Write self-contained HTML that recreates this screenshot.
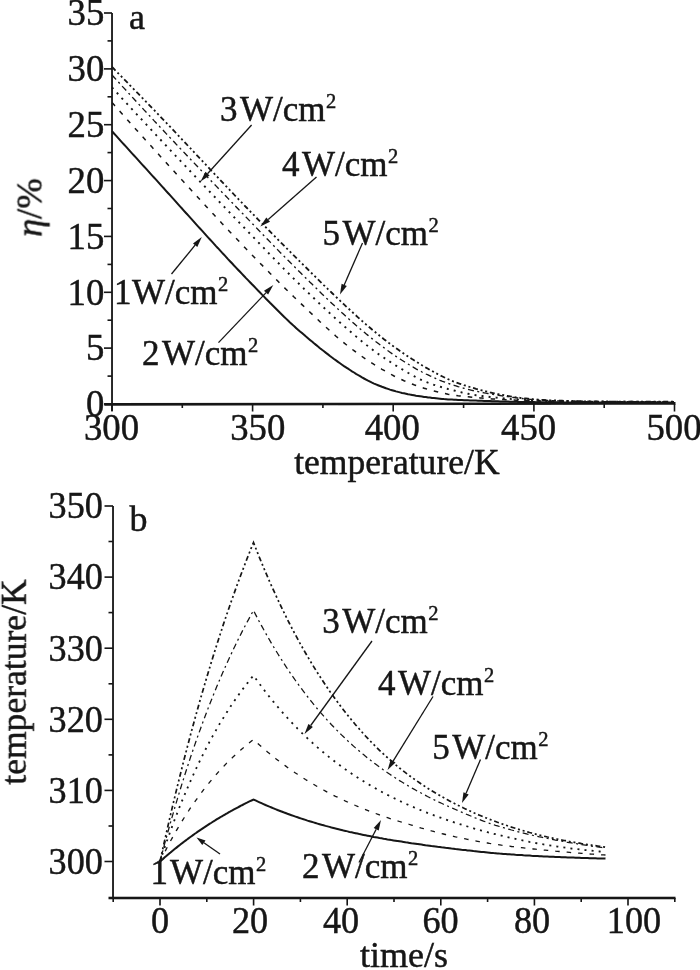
<!DOCTYPE html>
<html lang="en">
<head>
<meta charset="utf-8">
<title>Efficiency and temperature curves</title>
<style>
html,body{margin:0;padding:0;background:#fff;}
body{width:700px;height:970px;overflow:hidden;}
svg{display:block;}
svg text{font-family:'Liberation Serif', 'DejaVu Serif', serif;fill:#141414;stroke:#141414;stroke-width:0.45px;}
</style>
</head>
<body>
<svg width="700" height="970" viewBox="0 0 700 970">
<defs><filter id="soft" x="0" y="0" width="700" height="970" filterUnits="userSpaceOnUse"><feGaussianBlur stdDeviation="0.45"/></filter></defs>
<rect x="0" y="0" width="700" height="970" fill="#ffffff"/>
<g filter="url(#soft)">
<g id="chart-a">
<path d="M112.0,131.2 L114.0,133.5 L116.0,135.7 L118.0,137.9 L120.0,140.1 L122.0,142.3 L124.0,144.5 L126.0,146.7 L128.0,148.9 L130.0,151.1 L132.0,153.3 L134.0,155.5 L136.0,157.7 L138.0,159.9 L140.0,162.1 L142.0,164.3 L144.0,166.5 L146.0,168.7 L148.0,170.9 L150.0,173.1 L152.0,175.3 L154.0,177.5 L156.0,179.7 L158.0,181.9 L160.0,184.1 L162.0,186.3 L164.0,188.5 L166.0,190.8 L168.0,193.0 L170.0,195.2 L172.0,197.4 L174.0,199.6 L176.0,201.9 L178.0,204.1 L180.0,206.3 L182.0,208.5 L184.0,210.8 L186.0,213.0 L188.0,215.2 L190.0,217.4 L192.0,219.6 L194.0,221.9 L196.0,224.1 L198.0,226.3 L200.0,228.5 L202.0,230.7 L204.0,232.9 L206.0,235.1 L208.0,237.3 L210.0,239.5 L212.0,241.7 L214.0,243.9 L216.0,246.1 L218.0,248.2 L220.0,250.4 L222.0,252.6 L224.0,254.7 L226.0,256.9 L228.0,259.1 L230.0,261.2 L232.0,263.3 L234.0,265.5 L236.0,267.6 L238.0,269.7 L240.0,271.8 L242.0,273.9 L244.0,276.0 L246.0,278.1 L248.0,280.1 L250.0,282.2 L252.0,284.3 L254.0,286.3 L256.0,288.4 L258.0,290.5 L260.0,292.5 L262.0,294.6 L264.0,296.6 L266.0,298.7 L268.0,300.7 L270.0,302.8 L272.0,304.8 L274.0,306.8 L276.0,308.8 L278.0,310.8 L280.0,312.8 L282.0,314.7 L284.0,316.7 L286.0,318.6 L288.0,320.5 L290.0,322.4 L292.0,324.2 L294.0,326.1 L296.0,327.9 L298.0,329.7 L300.0,331.4 L302.0,333.1 L304.0,334.8 L306.0,336.6 L308.0,338.2 L310.0,339.9 L312.0,341.6 L314.0,343.3 L316.0,344.9 L318.0,346.5 L320.0,348.2 L322.0,349.8 L324.0,351.3 L326.0,352.9 L328.0,354.4 L330.0,356.0 L332.0,357.5 L334.0,359.0 L336.0,360.4 L338.0,361.9 L340.0,363.3 L342.0,364.7 L344.0,366.1 L346.0,367.4 L348.0,368.7 L350.0,370.0 L352.0,371.3 L354.0,372.5 L356.0,373.8 L358.0,375.0 L360.0,376.2 L362.0,377.4 L364.0,378.5 L366.0,379.6 L368.0,380.7 L370.0,381.7 L372.0,382.7 L374.0,383.6 L376.0,384.4 L378.0,385.2 L380.0,386.0 L382.0,386.8 L384.0,387.5 L386.0,388.3 L388.0,388.9 L390.0,389.6 L392.0,390.2 L394.0,390.8 L396.0,391.4 L398.0,391.9 L400.0,392.4 L402.0,392.9 L404.0,393.3 L406.0,393.7 L408.0,394.2 L410.0,394.6 L412.0,394.9 L414.0,395.3 L416.0,395.7 L418.0,396.0 L420.0,396.3 L422.0,396.6 L424.0,396.9 L426.0,397.1 L428.0,397.4 L430.0,397.6 L432.0,397.9 L434.0,398.1 L436.0,398.3 L438.0,398.5 L440.0,398.7 L442.0,398.9 L444.0,399.1 L446.0,399.2 L448.0,399.4 L450.0,399.5 L452.0,399.6 L454.0,399.7 L456.0,399.8 L458.0,399.9 L460.0,400.0 L462.0,400.1 L464.0,400.2 L466.0,400.3 L468.0,400.3 L470.0,400.4 L472.0,400.5 L474.0,400.6 L476.0,400.6 L478.0,400.7 L480.0,400.8 L482.0,400.8 L484.0,400.9 L486.0,401.0 L488.0,401.0 L490.0,401.1 L492.0,401.2 L494.0,401.2 L496.0,401.3 L498.0,401.3 L500.0,401.4 L502.0,401.5 L504.0,401.5 L506.0,401.6 L508.0,401.6 L510.0,401.7 L512.0,401.7 L514.0,401.8 L516.0,401.8 L518.0,401.9 L520.0,401.9 L522.0,401.9 L524.0,402.0 L526.0,402.0 L528.0,402.0 L530.0,402.1 L532.0,402.1 L534.0,402.1 L536.0,402.2 L538.0,402.2 L540.0,402.2 L542.0,402.2 L544.0,402.3 L546.0,402.3 L548.0,402.3 L550.0,402.3 L552.0,402.3 L554.0,402.3 L556.0,402.3 L558.0,402.3 L560.0,402.4 L562.0,402.4 L564.0,402.4 L566.0,402.4 L568.0,402.4 L570.0,402.4 L572.0,402.4 L574.0,402.4 L576.0,402.4 L578.0,402.5 L580.0,402.5 L582.0,402.5 L584.0,402.5 L586.0,402.5 L588.0,402.5 L590.0,402.5 L592.0,402.5 L594.0,402.5 L596.0,402.5 L598.0,402.5 L600.0,402.5 L602.0,402.5 L604.0,402.5 L606.0,402.5 L608.0,402.5 L610.0,402.5 L612.0,402.5 L614.0,402.5 L616.0,402.5 L618.0,402.5 L620.0,402.5 L622.0,402.5 L624.0,402.5 L626.0,402.5 L628.0,402.5 L630.0,402.5 L632.0,402.5 L634.0,402.5 L636.0,402.5 L638.0,402.5 L640.0,402.5 L642.0,402.5 L644.0,402.5 L646.0,402.5 L648.0,402.5 L650.0,402.5 L652.0,402.5 L654.0,402.5 L656.0,402.5 L658.0,402.5 L660.0,402.5 L662.0,402.5 L664.0,402.5 L666.0,402.5 L668.0,402.5 L670.0,402.5 L672.0,402.5 L674.0,402.5" fill="none" stroke="#141414" stroke-width="2.0"/>
<path d="M112.0,102.5 L114.0,104.8 L116.0,107.0 L118.0,109.3 L120.0,111.5 L122.0,113.7 L124.0,116.0 L126.0,118.2 L128.0,120.5 L130.0,122.7 L132.0,124.9 L134.0,127.2 L136.0,129.4 L138.0,131.6 L140.0,133.8 L142.0,136.1 L144.0,138.3 L146.0,140.5 L148.0,142.7 L150.0,144.9 L152.0,147.1 L154.0,149.3 L156.0,151.5 L158.0,153.7 L160.0,155.9 L162.0,158.1 L164.0,160.3 L166.0,162.5 L168.0,164.7 L170.0,166.9 L172.0,169.1 L174.0,171.3 L176.0,173.5 L178.0,175.7 L180.0,177.9 L182.0,180.1 L184.0,182.2 L186.0,184.4 L188.0,186.6 L190.0,188.8 L192.0,191.0 L194.0,193.2 L196.0,195.3 L198.0,197.5 L200.0,199.7 L202.0,201.9 L204.0,204.0 L206.0,206.2 L208.0,208.4 L210.0,210.5 L212.0,212.7 L214.0,214.8 L216.0,217.0 L218.0,219.1 L220.0,221.2 L222.0,223.4 L224.0,225.5 L226.0,227.6 L228.0,229.8 L230.0,231.9 L232.0,234.0 L234.0,236.1 L236.0,238.2 L238.0,240.3 L240.0,242.4 L242.0,244.5 L244.0,246.6 L246.0,248.7 L248.0,250.7 L250.0,252.8 L252.0,254.9 L254.0,256.9 L256.0,259.0 L258.0,261.0 L260.0,263.1 L262.0,265.1 L264.0,267.2 L266.0,269.2 L268.0,271.2 L270.0,273.3 L272.0,275.3 L274.0,277.3 L276.0,279.3 L278.0,281.3 L280.0,283.3 L282.0,285.3 L284.0,287.2 L286.0,289.2 L288.0,291.2 L290.0,293.1 L292.0,295.0 L294.0,297.0 L296.0,298.9 L298.0,300.8 L300.0,302.7 L302.0,304.6 L304.0,306.5 L306.0,308.4 L308.0,310.3 L310.0,312.2 L312.0,314.1 L314.0,316.0 L316.0,317.9 L318.0,319.8 L320.0,321.7 L322.0,323.5 L324.0,325.4 L326.0,327.2 L328.0,329.0 L330.0,330.9 L332.0,332.6 L334.0,334.4 L336.0,336.2 L338.0,337.9 L340.0,339.6 L342.0,341.3 L344.0,342.9 L346.0,344.5 L348.0,346.1 L350.0,347.7 L352.0,349.2 L354.0,350.7 L356.0,352.2 L358.0,353.7 L360.0,355.1 L362.0,356.5 L364.0,357.9 L366.0,359.2 L368.0,360.5 L370.0,361.8 L372.0,363.1 L374.0,364.4 L376.0,365.6 L378.0,366.8 L380.0,368.1 L382.0,369.3 L384.0,370.4 L386.0,371.6 L388.0,372.7 L390.0,373.9 L392.0,374.9 L394.0,376.0 L396.0,377.0 L398.0,378.0 L400.0,378.9 L402.0,379.8 L404.0,380.7 L406.0,381.5 L408.0,382.4 L410.0,383.2 L412.0,384.0 L414.0,384.8 L416.0,385.5 L418.0,386.2 L420.0,386.9 L422.0,387.6 L424.0,388.2 L426.0,388.8 L428.0,389.4 L430.0,389.9 L432.0,390.5 L434.0,391.0 L436.0,391.5 L438.0,392.0 L440.0,392.5 L442.0,393.0 L444.0,393.4 L446.0,393.8 L448.0,394.2 L450.0,394.5 L452.0,394.8 L454.0,395.1 L456.0,395.4 L458.0,395.7 L460.0,395.9 L462.0,396.2 L464.0,396.4 L466.0,396.6 L468.0,396.8 L470.0,397.0 L472.0,397.2 L474.0,397.4 L476.0,397.6 L478.0,397.8 L480.0,397.9 L482.0,398.1 L484.0,398.3 L486.0,398.4 L488.0,398.6 L490.0,398.7 L492.0,398.9 L494.0,399.0 L496.0,399.2 L498.0,399.3 L500.0,399.4 L502.0,399.5 L504.0,399.6 L506.0,399.7 L508.0,399.8 L510.0,399.9 L512.0,400.0 L514.0,400.1 L516.0,400.2 L518.0,400.3 L520.0,400.4 L522.0,400.5 L524.0,400.6 L526.0,400.6 L528.0,400.7 L530.0,400.8 L532.0,400.8 L534.0,400.9 L536.0,401.0 L538.0,401.0 L540.0,401.1 L542.0,401.1 L544.0,401.2 L546.0,401.2 L548.0,401.3 L550.0,401.3 L552.0,401.3 L554.0,401.4 L556.0,401.4 L558.0,401.4 L560.0,401.4 L562.0,401.5 L564.0,401.5 L566.0,401.5 L568.0,401.5 L570.0,401.6 L572.0,401.6 L574.0,401.6 L576.0,401.6 L578.0,401.6 L580.0,401.7 L582.0,401.7 L584.0,401.7 L586.0,401.7 L588.0,401.7 L590.0,401.7 L592.0,401.8 L594.0,401.8 L596.0,401.8 L598.0,401.8 L600.0,401.8 L602.0,401.8 L604.0,401.8 L606.0,401.8 L608.0,401.8 L610.0,401.8 L612.0,401.9 L614.0,401.9 L616.0,401.9 L618.0,401.9 L620.0,401.9 L622.0,401.9 L624.0,401.9 L626.0,401.9 L628.0,401.9 L630.0,401.9 L632.0,401.9 L634.0,401.9 L636.0,401.9 L638.0,401.9 L640.0,401.9 L642.0,402.0 L644.0,402.0 L646.0,402.0 L648.0,402.0 L650.0,402.0 L652.0,402.0 L654.0,402.0 L656.0,402.0 L658.0,402.0 L660.0,402.0 L662.0,402.0 L664.0,402.0 L666.0,402.0 L668.0,402.0 L670.0,402.0 L672.0,402.0 L674.0,402.0" fill="none" stroke="#141414" stroke-width="1.5" stroke-dasharray="4.5 7"/>
<path d="M112.0,87.5 L114.0,89.7 L116.0,91.8 L118.0,94.0 L120.0,96.2 L122.0,98.4 L124.0,100.5 L126.0,102.7 L128.0,104.8 L130.0,107.0 L132.0,109.2 L134.0,111.3 L136.0,113.5 L138.0,115.6 L140.0,117.8 L142.0,119.9 L144.0,122.1 L146.0,124.2 L148.0,126.4 L150.0,128.5 L152.0,130.6 L154.0,132.8 L156.0,134.9 L158.0,137.0 L160.0,139.2 L162.0,141.3 L164.0,143.4 L166.0,145.5 L168.0,147.7 L170.0,149.8 L172.0,151.9 L174.0,154.0 L176.0,156.2 L178.0,158.3 L180.0,160.4 L182.0,162.5 L184.0,164.6 L186.0,166.7 L188.0,168.9 L190.0,171.0 L192.0,173.1 L194.0,175.2 L196.0,177.3 L198.0,179.4 L200.0,181.5 L202.0,183.6 L204.0,185.7 L206.0,187.8 L208.0,189.9 L210.0,192.0 L212.0,194.1 L214.0,196.2 L216.0,198.3 L218.0,200.4 L220.0,202.5 L222.0,204.6 L224.0,206.7 L226.0,208.8 L228.0,210.8 L230.0,212.9 L232.0,215.0 L234.0,217.1 L236.0,219.2 L238.0,221.3 L240.0,223.3 L242.0,225.4 L244.0,227.5 L246.0,229.6 L248.0,231.6 L250.0,233.7 L252.0,235.8 L254.0,237.8 L256.0,239.9 L258.0,242.0 L260.0,244.1 L262.0,246.2 L264.0,248.2 L266.0,250.3 L268.0,252.4 L270.0,254.5 L272.0,256.5 L274.0,258.6 L276.0,260.7 L278.0,262.7 L280.0,264.8 L282.0,266.8 L284.0,268.9 L286.0,270.9 L288.0,272.9 L290.0,274.9 L292.0,276.9 L294.0,278.9 L296.0,280.9 L298.0,282.8 L300.0,284.8 L302.0,286.7 L304.0,288.7 L306.0,290.6 L308.0,292.6 L310.0,294.5 L312.0,296.4 L314.0,298.3 L316.0,300.3 L318.0,302.2 L320.0,304.1 L322.0,306.0 L324.0,307.8 L326.0,309.7 L328.0,311.6 L330.0,313.4 L332.0,315.3 L334.0,317.1 L336.0,318.9 L338.0,320.7 L340.0,322.5 L342.0,324.3 L344.0,326.1 L346.0,327.8 L348.0,329.6 L350.0,331.3 L352.0,333.0 L354.0,334.7 L356.0,336.4 L358.0,338.1 L360.0,339.8 L362.0,341.4 L364.0,343.0 L366.0,344.6 L368.0,346.2 L370.0,347.8 L372.0,349.3 L374.0,350.8 L376.0,352.2 L378.0,353.7 L380.0,355.1 L382.0,356.5 L384.0,357.8 L386.0,359.2 L388.0,360.5 L390.0,361.8 L392.0,363.1 L394.0,364.3 L396.0,365.6 L398.0,366.8 L400.0,368.0 L402.0,369.2 L404.0,370.4 L406.0,371.6 L408.0,372.8 L410.0,373.9 L412.0,375.1 L414.0,376.2 L416.0,377.3 L418.0,378.3 L420.0,379.3 L422.0,380.2 L424.0,381.1 L426.0,381.9 L428.0,382.7 L430.0,383.4 L432.0,384.1 L434.0,384.8 L436.0,385.5 L438.0,386.1 L440.0,386.7 L442.0,387.3 L444.0,387.9 L446.0,388.4 L448.0,389.0 L450.0,389.5 L452.0,390.0 L454.0,390.5 L456.0,391.0 L458.0,391.5 L460.0,392.0 L462.0,392.5 L464.0,392.9 L466.0,393.3 L468.0,393.8 L470.0,394.1 L472.0,394.5 L474.0,394.8 L476.0,395.2 L478.0,395.4 L480.0,395.7 L482.0,396.0 L484.0,396.3 L486.0,396.5 L488.0,396.7 L490.0,397.0 L492.0,397.2 L494.0,397.4 L496.0,397.6 L498.0,397.8 L500.0,398.0 L502.0,398.2 L504.0,398.4 L506.0,398.6 L508.0,398.7 L510.0,398.9 L512.0,399.1 L514.0,399.3 L516.0,399.4 L518.0,399.6 L520.0,399.7 L522.0,399.8 L524.0,399.9 L526.0,400.1 L528.0,400.2 L530.0,400.3 L532.0,400.4 L534.0,400.4 L536.0,400.5 L538.0,400.6 L540.0,400.7 L542.0,400.8 L544.0,400.8 L546.0,400.9 L548.0,401.0 L550.0,401.0 L552.0,401.0 L554.0,401.1 L556.0,401.1 L558.0,401.2 L560.0,401.2 L562.0,401.2 L564.0,401.3 L566.0,401.3 L568.0,401.3 L570.0,401.4 L572.0,401.4 L574.0,401.4 L576.0,401.5 L578.0,401.5 L580.0,401.5 L582.0,401.5 L584.0,401.6 L586.0,401.6 L588.0,401.6 L590.0,401.6 L592.0,401.6 L594.0,401.7 L596.0,401.7 L598.0,401.7 L600.0,401.7 L602.0,401.7 L604.0,401.7 L606.0,401.7 L608.0,401.7 L610.0,401.7 L612.0,401.8 L614.0,401.8 L616.0,401.8 L618.0,401.8 L620.0,401.8 L622.0,401.8 L624.0,401.8 L626.0,401.8 L628.0,401.8 L630.0,401.8 L632.0,401.8 L634.0,401.8 L636.0,401.8 L638.0,401.8 L640.0,401.9 L642.0,401.9 L644.0,401.9 L646.0,401.9 L648.0,401.9 L650.0,401.9 L652.0,401.9 L654.0,401.9 L656.0,401.9 L658.0,401.9 L660.0,401.9 L662.0,401.9 L664.0,401.9 L666.0,401.9 L668.0,401.9 L670.0,401.9 L672.0,401.9 L674.0,401.9" fill="none" stroke="#141414" stroke-width="1.9" stroke-dasharray="2 5.1"/>
<path d="M112.0,75.0 L114.0,77.2 L116.0,79.4 L118.0,81.6 L120.0,83.8 L122.0,86.0 L124.0,88.1 L126.0,90.3 L128.0,92.5 L130.0,94.7 L132.0,96.9 L134.0,99.0 L136.0,101.2 L138.0,103.4 L140.0,105.5 L142.0,107.7 L144.0,109.9 L146.0,112.0 L148.0,114.2 L150.0,116.3 L152.0,118.4 L154.0,120.6 L156.0,122.7 L158.0,124.8 L160.0,127.0 L162.0,129.1 L164.0,131.2 L166.0,133.4 L168.0,135.5 L170.0,137.6 L172.0,139.7 L174.0,141.8 L176.0,144.0 L178.0,146.1 L180.0,148.2 L182.0,150.3 L184.0,152.4 L186.0,154.5 L188.0,156.6 L190.0,158.7 L192.0,160.8 L194.0,162.9 L196.0,165.0 L198.0,167.1 L200.0,169.2 L202.0,171.3 L204.0,173.4 L206.0,175.5 L208.0,177.6 L210.0,179.7 L212.0,181.8 L214.0,183.8 L216.0,185.9 L218.0,188.0 L220.0,190.1 L222.0,192.2 L224.0,194.2 L226.0,196.3 L228.0,198.4 L230.0,200.5 L232.0,202.6 L234.0,204.6 L236.0,206.7 L238.0,208.8 L240.0,210.9 L242.0,212.9 L244.0,215.0 L246.0,217.1 L248.0,219.1 L250.0,221.2 L252.0,223.3 L254.0,225.3 L256.0,227.4 L258.0,229.5 L260.0,231.6 L262.0,233.6 L264.0,235.7 L266.0,237.8 L268.0,239.8 L270.0,241.9 L272.0,244.0 L274.0,246.0 L276.0,248.1 L278.0,250.1 L280.0,252.2 L282.0,254.2 L284.0,256.2 L286.0,258.3 L288.0,260.3 L290.0,262.3 L292.0,264.3 L294.0,266.3 L296.0,268.3 L298.0,270.3 L300.0,272.3 L302.0,274.3 L304.0,276.2 L306.0,278.2 L308.0,280.2 L310.0,282.2 L312.0,284.1 L314.0,286.1 L316.0,288.0 L318.0,290.0 L320.0,291.9 L322.0,293.9 L324.0,295.8 L326.0,297.7 L328.0,299.7 L330.0,301.6 L332.0,303.5 L334.0,305.3 L336.0,307.2 L338.0,309.1 L340.0,310.9 L342.0,312.8 L344.0,314.6 L346.0,316.4 L348.0,318.2 L350.0,320.0 L352.0,321.8 L354.0,323.5 L356.0,325.3 L358.0,327.0 L360.0,328.7 L362.0,330.4 L364.0,332.1 L366.0,333.8 L368.0,335.4 L370.0,337.0 L372.0,338.6 L374.0,340.2 L376.0,341.8 L378.0,343.3 L380.0,344.8 L382.0,346.4 L384.0,347.8 L386.0,349.3 L388.0,350.8 L390.0,352.2 L392.0,353.6 L394.0,355.0 L396.0,356.4 L398.0,357.7 L400.0,359.0 L402.0,360.3 L404.0,361.5 L406.0,362.8 L408.0,364.0 L410.0,365.2 L412.0,366.4 L414.0,367.6 L416.0,368.8 L418.0,369.9 L420.0,370.9 L422.0,372.0 L424.0,373.0 L426.0,374.0 L428.0,374.9 L430.0,375.9 L432.0,376.8 L434.0,377.7 L436.0,378.6 L438.0,379.4 L440.0,380.3 L442.0,381.1 L444.0,381.8 L446.0,382.6 L448.0,383.3 L450.0,384.0 L452.0,384.7 L454.0,385.3 L456.0,385.9 L458.0,386.6 L460.0,387.1 L462.0,387.7 L464.0,388.3 L466.0,388.8 L468.0,389.3 L470.0,389.8 L472.0,390.3 L474.0,390.8 L476.0,391.2 L478.0,391.6 L480.0,392.0 L482.0,392.4 L484.0,392.8 L486.0,393.2 L488.0,393.5 L490.0,393.9 L492.0,394.2 L494.0,394.6 L496.0,394.9 L498.0,395.2 L500.0,395.5 L502.0,395.8 L504.0,396.1 L506.0,396.4 L508.0,396.7 L510.0,397.0 L512.0,397.3 L514.0,397.5 L516.0,397.8 L518.0,398.0 L520.0,398.3 L522.0,398.5 L524.0,398.7 L526.0,398.9 L528.0,399.1 L530.0,399.3 L532.0,399.4 L534.0,399.6 L536.0,399.8 L538.0,399.9 L540.0,400.1 L542.0,400.2 L544.0,400.3 L546.0,400.4 L548.0,400.5 L550.0,400.6 L552.0,400.7 L554.0,400.7 L556.0,400.8 L558.0,400.9 L560.0,400.9 L562.0,401.0 L564.0,401.0 L566.0,401.1 L568.0,401.1 L570.0,401.2 L572.0,401.2 L574.0,401.3 L576.0,401.3 L578.0,401.3 L580.0,401.4 L582.0,401.4 L584.0,401.4 L586.0,401.5 L588.0,401.5 L590.0,401.5 L592.0,401.5 L594.0,401.6 L596.0,401.6 L598.0,401.6 L600.0,401.6 L602.0,401.6 L604.0,401.6 L606.0,401.6 L608.0,401.6 L610.0,401.6 L612.0,401.7 L614.0,401.7 L616.0,401.7 L618.0,401.7 L620.0,401.7 L622.0,401.7 L624.0,401.7 L626.0,401.7 L628.0,401.7 L630.0,401.7 L632.0,401.7 L634.0,401.7 L636.0,401.7 L638.0,401.7 L640.0,401.8 L642.0,401.8 L644.0,401.8 L646.0,401.8 L648.0,401.8 L650.0,401.8 L652.0,401.8 L654.0,401.8 L656.0,401.8 L658.0,401.8 L660.0,401.8 L662.0,401.8 L664.0,401.8 L666.0,401.8 L668.0,401.8 L670.0,401.8 L672.0,401.8 L674.0,401.8" fill="none" stroke="#141414" stroke-width="1.35" stroke-dasharray="6 3.5 2 3.5"/>
<path d="M112.0,67.0 L114.0,69.0 L116.0,71.1 L118.0,73.1 L120.0,75.1 L122.0,77.1 L124.0,79.2 L126.0,81.2 L128.0,83.2 L130.0,85.3 L132.0,87.3 L134.0,89.4 L136.0,91.4 L138.0,93.4 L140.0,95.5 L142.0,97.6 L144.0,99.6 L146.0,101.7 L148.0,103.7 L150.0,105.8 L152.0,107.9 L154.0,109.9 L156.0,112.0 L158.0,114.1 L160.0,116.2 L162.0,118.3 L164.0,120.4 L166.0,122.5 L168.0,124.6 L170.0,126.7 L172.0,128.8 L174.0,130.9 L176.0,133.0 L178.0,135.2 L180.0,137.3 L182.0,139.4 L184.0,141.5 L186.0,143.6 L188.0,145.8 L190.0,147.9 L192.0,150.0 L194.0,152.1 L196.0,154.3 L198.0,156.4 L200.0,158.5 L202.0,160.6 L204.0,162.8 L206.0,164.9 L208.0,167.0 L210.0,169.2 L212.0,171.3 L214.0,173.4 L216.0,175.5 L218.0,177.6 L220.0,179.8 L222.0,181.9 L224.0,184.0 L226.0,186.1 L228.0,188.2 L230.0,190.3 L232.0,192.4 L234.0,194.5 L236.0,196.6 L238.0,198.7 L240.0,200.8 L242.0,202.8 L244.0,204.9 L246.0,207.0 L248.0,209.0 L250.0,211.1 L252.0,213.2 L254.0,215.2 L256.0,217.3 L258.0,219.3 L260.0,221.4 L262.0,223.4 L264.0,225.4 L266.0,227.5 L268.0,229.5 L270.0,231.5 L272.0,233.6 L274.0,235.6 L276.0,237.6 L278.0,239.6 L280.0,241.6 L282.0,243.7 L284.0,245.7 L286.0,247.7 L288.0,249.7 L290.0,251.7 L292.0,253.7 L294.0,255.7 L296.0,257.6 L298.0,259.6 L300.0,261.6 L302.0,263.6 L304.0,265.6 L306.0,267.5 L308.0,269.5 L310.0,271.5 L312.0,273.5 L314.0,275.4 L316.0,277.4 L318.0,279.4 L320.0,281.4 L322.0,283.3 L324.0,285.3 L326.0,287.2 L328.0,289.2 L330.0,291.1 L332.0,293.0 L334.0,295.0 L336.0,296.9 L338.0,298.8 L340.0,300.7 L342.0,302.6 L344.0,304.4 L346.0,306.3 L348.0,308.2 L350.0,310.0 L352.0,311.8 L354.0,313.7 L356.0,315.5 L358.0,317.3 L360.0,319.1 L362.0,320.9 L364.0,322.6 L366.0,324.4 L368.0,326.1 L370.0,327.8 L372.0,329.5 L374.0,331.2 L376.0,332.8 L378.0,334.4 L380.0,336.0 L382.0,337.6 L384.0,339.2 L386.0,340.7 L388.0,342.3 L390.0,343.8 L392.0,345.3 L394.0,346.7 L396.0,348.2 L398.0,349.6 L400.0,351.0 L402.0,352.4 L404.0,353.8 L406.0,355.1 L408.0,356.4 L410.0,357.8 L412.0,359.1 L414.0,360.3 L416.0,361.6 L418.0,362.8 L420.0,364.1 L422.0,365.3 L424.0,366.4 L426.0,367.6 L428.0,368.7 L430.0,369.9 L432.0,371.0 L434.0,372.1 L436.0,373.2 L438.0,374.3 L440.0,375.3 L442.0,376.3 L444.0,377.3 L446.0,378.3 L448.0,379.2 L450.0,380.0 L452.0,380.8 L454.0,381.6 L456.0,382.4 L458.0,383.1 L460.0,383.8 L462.0,384.5 L464.0,385.2 L466.0,385.8 L468.0,386.4 L470.0,387.0 L472.0,387.6 L474.0,388.2 L476.0,388.8 L478.0,389.3 L480.0,389.9 L482.0,390.4 L484.0,390.9 L486.0,391.4 L488.0,391.9 L490.0,392.4 L492.0,392.8 L494.0,393.3 L496.0,393.7 L498.0,394.1 L500.0,394.5 L502.0,394.9 L504.0,395.2 L506.0,395.6 L508.0,396.0 L510.0,396.3 L512.0,396.6 L514.0,397.0 L516.0,397.3 L518.0,397.5 L520.0,397.8 L522.0,398.1 L524.0,398.3 L526.0,398.5 L528.0,398.7 L530.0,398.9 L532.0,399.1 L534.0,399.3 L536.0,399.4 L538.0,399.6 L540.0,399.7 L542.0,399.9 L544.0,400.0 L546.0,400.1 L548.0,400.2 L550.0,400.3 L552.0,400.4 L554.0,400.5 L556.0,400.5 L558.0,400.6 L560.0,400.7 L562.0,400.7 L564.0,400.8 L566.0,400.9 L568.0,400.9 L570.0,401.0 L572.0,401.0 L574.0,401.1 L576.0,401.1 L578.0,401.2 L580.0,401.2 L582.0,401.3 L584.0,401.3 L586.0,401.3 L588.0,401.4 L590.0,401.4 L592.0,401.4 L594.0,401.5 L596.0,401.5 L598.0,401.5 L600.0,401.5 L602.0,401.5 L604.0,401.5 L606.0,401.5 L608.0,401.5 L610.0,401.5 L612.0,401.6 L614.0,401.6 L616.0,401.6 L618.0,401.6 L620.0,401.6 L622.0,401.6 L624.0,401.6 L626.0,401.6 L628.0,401.6 L630.0,401.6 L632.0,401.6 L634.0,401.6 L636.0,401.6 L638.0,401.6 L640.0,401.7 L642.0,401.7 L644.0,401.7 L646.0,401.7 L648.0,401.7 L650.0,401.7 L652.0,401.7 L654.0,401.7 L656.0,401.7 L658.0,401.7 L660.0,401.7 L662.0,401.7 L664.0,401.7 L666.0,401.7 L668.0,401.7 L670.0,401.7 L672.0,401.7 L674.0,401.7" fill="none" stroke="#141414" stroke-width="1.8" stroke-dasharray="5 2.8 2 2.8 2 2.8"/>
<line x1="112" y1="13" x2="112" y2="411" stroke="#141414" stroke-width="1.8"/>
<line x1="104.3" y1="404.4" x2="675.5" y2="403.4" stroke="#141414" stroke-width="2.6"/>
<line x1="104" y1="404.0" x2="112" y2="404.0" stroke="#141414" stroke-width="1.6"/>
<line x1="107.5" y1="376.1" x2="112" y2="376.1" stroke="#141414" stroke-width="1.6"/>
<line x1="104" y1="348.1" x2="112" y2="348.1" stroke="#141414" stroke-width="1.6"/>
<line x1="107.5" y1="320.2" x2="112" y2="320.2" stroke="#141414" stroke-width="1.6"/>
<line x1="104" y1="292.3" x2="112" y2="292.3" stroke="#141414" stroke-width="1.6"/>
<line x1="107.5" y1="264.4" x2="112" y2="264.4" stroke="#141414" stroke-width="1.6"/>
<line x1="104" y1="236.4" x2="112" y2="236.4" stroke="#141414" stroke-width="1.6"/>
<line x1="107.5" y1="208.5" x2="112" y2="208.5" stroke="#141414" stroke-width="1.6"/>
<line x1="104" y1="180.6" x2="112" y2="180.6" stroke="#141414" stroke-width="1.6"/>
<line x1="107.5" y1="152.6" x2="112" y2="152.6" stroke="#141414" stroke-width="1.6"/>
<line x1="104" y1="124.7" x2="112" y2="124.7" stroke="#141414" stroke-width="1.6"/>
<line x1="107.5" y1="96.8" x2="112" y2="96.8" stroke="#141414" stroke-width="1.6"/>
<line x1="104" y1="68.9" x2="112" y2="68.9" stroke="#141414" stroke-width="1.6"/>
<line x1="107.5" y1="40.9" x2="112" y2="40.9" stroke="#141414" stroke-width="1.6"/>
<line x1="104" y1="13.0" x2="112" y2="13.0" stroke="#141414" stroke-width="1.6"/>
<line x1="112.0" y1="404" x2="112.0" y2="411.5" stroke="#141414" stroke-width="1.6"/>
<line x1="182.3" y1="404" x2="182.3" y2="408" stroke="#141414" stroke-width="1.6"/>
<line x1="252.6" y1="404" x2="252.6" y2="411.5" stroke="#141414" stroke-width="1.6"/>
<line x1="322.9" y1="404" x2="322.9" y2="408" stroke="#141414" stroke-width="1.6"/>
<line x1="393.2" y1="404" x2="393.2" y2="411.5" stroke="#141414" stroke-width="1.6"/>
<line x1="463.6" y1="404" x2="463.6" y2="408" stroke="#141414" stroke-width="1.6"/>
<line x1="533.9" y1="404" x2="533.9" y2="411.5" stroke="#141414" stroke-width="1.6"/>
<line x1="604.2" y1="404" x2="604.2" y2="408" stroke="#141414" stroke-width="1.6"/>
<line x1="674.5" y1="404" x2="674.5" y2="411.5" stroke="#141414" stroke-width="1.6"/>
<text transform="translate(104.3,416.3) scale(0.955,1)" font-size="38.5" text-anchor="end">0</text>
<text transform="translate(104.3,360.4) scale(0.955,1)" font-size="38.5" text-anchor="end">5</text>
<text transform="translate(104.3,304.6) scale(0.955,1)" font-size="38.5" text-anchor="end">10</text>
<text transform="translate(104.3,248.7) scale(0.955,1)" font-size="38.5" text-anchor="end">15</text>
<text transform="translate(104.3,192.9) scale(0.955,1)" font-size="38.5" text-anchor="end">20</text>
<text transform="translate(104.3,137.0) scale(0.955,1)" font-size="38.5" text-anchor="end">25</text>
<text transform="translate(104.3,81.2) scale(0.955,1)" font-size="38.5" text-anchor="end">30</text>
<text transform="translate(104.3,25.3) scale(0.955,1)" font-size="38.5" text-anchor="end">35</text>
<text transform="translate(111.5,439.5) scale(0.955,1)" font-size="38.5" text-anchor="middle">300</text>
<text transform="translate(257.7,439.5) scale(0.955,1)" font-size="38.5" text-anchor="middle">350</text>
<text transform="translate(392.3,439.5) scale(0.955,1)" font-size="38.5" text-anchor="middle">400</text>
<text transform="translate(528.6,439.5) scale(0.955,1)" font-size="38.5" text-anchor="middle">450</text>
<text transform="translate(674,439.5) scale(0.955,1)" font-size="38.5" text-anchor="middle">500</text>
<text x="396.9" y="474" font-size="35.6" text-anchor="middle">temperature/K</text>
<text x="129" y="29.3" font-size="36" text-anchor="start">a</text>
<text transform="translate(41.5,207.7) rotate(-90)" font-size="36.5" text-anchor="middle"><tspan font-style="italic">η</tspan>/%</text>
<text x="220" y="120.5" font-size="35">3<tspan dx="2.5">W/cm</tspan><tspan font-size="20.5" dy="-13" dx="0.5">2</tspan></text>
<text x="282" y="176" font-size="35">4<tspan dx="2.5">W/cm</tspan><tspan font-size="20.5" dy="-13" dx="0.5">2</tspan></text>
<text x="322.5" y="244.7" font-size="35">5<tspan dx="2.5">W/cm</tspan><tspan font-size="20.5" dy="-13" dx="0.5">2</tspan></text>
<text x="114" y="304.3" font-size="35">1<tspan dx="0.5">W/cm</tspan><tspan font-size="20.5" dy="-13" dx="0.5">2</tspan></text>
<text x="142" y="365" font-size="35">2<tspan dx="2.5">W/cm</tspan><tspan font-size="20.5" dy="-13" dx="0.5">2</tspan></text>
<line x1="251.6" y1="125.0" x2="207.5" y2="173.7" stroke="#141414" stroke-width="1.3"/>
<polygon points="200.5,181.5 205.5,171.8 209.6,175.6" fill="#141414"/>
<line x1="316.5" y1="177.0" x2="268.2" y2="219.6" stroke="#141414" stroke-width="1.3"/>
<polygon points="260.3,226.5 266.3,217.5 270.0,221.7" fill="#141414"/>
<line x1="362.5" y1="243.0" x2="344.2" y2="284.9" stroke="#141414" stroke-width="1.3"/>
<polygon points="340.0,294.5 341.6,283.8 346.8,286.0" fill="#141414"/>
<line x1="171.5" y1="274.0" x2="195.1" y2="245.2" stroke="#141414" stroke-width="1.3"/>
<polygon points="201.8,237.1 197.3,247.0 193.0,243.4" fill="#141414"/>
<line x1="218.5" y1="342.6" x2="266.1" y2="292.6" stroke="#141414" stroke-width="1.3"/>
<polygon points="273.3,285.0 268.1,294.5 264.0,290.7" fill="#141414"/>
</g>
<g id="chart-b">
<path d="M160.0,861.5 L161.5,860.2 L163.0,858.9 L164.5,857.5 L166.0,856.3 L167.5,855.0 L169.0,853.7 L170.5,852.5 L172.0,851.2 L173.5,850.0 L175.0,848.8 L176.5,847.6 L178.0,846.4 L179.5,845.2 L181.0,844.0 L182.5,842.9 L184.0,841.7 L185.5,840.6 L187.0,839.5 L188.5,838.4 L190.0,837.3 L191.5,836.2 L193.0,835.1 L194.5,834.0 L196.0,833.0 L197.5,831.9 L199.0,830.9 L200.5,829.9 L202.0,828.9 L203.5,827.9 L205.0,826.9 L206.5,825.9 L208.0,824.9 L209.5,823.9 L211.0,823.0 L212.5,822.0 L214.0,821.1 L215.5,820.2 L217.0,819.2 L218.5,818.3 L220.0,817.4 L221.5,816.5 L223.0,815.7 L224.5,814.8 L226.0,813.9 L227.5,813.1 L229.0,812.2 L230.5,811.4 L232.0,810.5 L233.5,809.7 L235.0,808.9 L236.5,808.1 L238.0,807.3 L239.5,806.5 L241.0,805.7 L242.5,805.0 L244.0,804.2 L245.5,803.4 L247.0,802.7 L248.5,801.9 L250.0,801.2 L251.5,800.5 L253.5,799.5 L255.5,800.4 L257.5,801.4 L259.5,802.3 L261.5,803.2 L263.5,804.1 L265.5,805.0 L267.5,805.8 L269.5,806.7 L271.5,807.5 L273.5,808.3 L275.5,809.2 L277.5,810.0 L279.5,810.7 L281.5,811.5 L283.5,812.3 L285.5,813.0 L287.5,813.8 L289.5,814.5 L291.5,815.2 L293.5,815.9 L295.5,816.6 L297.5,817.3 L299.5,818.0 L301.5,818.6 L303.5,819.3 L305.5,819.9 L307.5,820.6 L309.5,821.2 L311.5,821.8 L313.5,822.4 L315.5,823.0 L317.5,823.6 L319.5,824.2 L321.5,824.8 L323.5,825.3 L325.5,825.9 L327.5,826.4 L329.5,826.9 L331.5,827.5 L333.5,828.0 L335.5,828.5 L337.5,829.0 L339.5,829.5 L341.5,830.0 L343.5,830.5 L345.5,830.9 L347.5,831.4 L349.5,831.9 L351.5,832.3 L353.5,832.8 L355.5,833.2 L357.5,833.6 L359.5,834.1 L361.5,834.5 L363.5,834.9 L365.5,835.3 L367.5,835.7 L369.5,836.1 L371.5,836.5 L373.5,836.9 L375.5,837.2 L377.5,837.6 L379.5,838.0 L381.5,838.3 L383.5,838.7 L385.5,839.0 L387.5,839.4 L389.5,839.7 L391.5,840.1 L393.5,840.4 L395.5,840.7 L397.5,841.0 L399.5,841.3 L401.5,841.6 L403.5,841.9 L405.5,842.3 L407.5,842.6 L409.5,842.9 L411.5,843.2 L413.5,843.4 L415.5,843.7 L417.5,844.0 L419.5,844.3 L421.5,844.6 L423.5,844.9 L425.5,845.2 L427.5,845.4 L429.5,845.7 L431.5,846.0 L433.5,846.2 L435.5,846.5 L437.5,846.8 L439.5,847.0 L441.5,847.3 L443.5,847.5 L445.5,847.8 L447.5,848.0 L449.5,848.2 L451.5,848.5 L453.5,848.7 L455.5,849.0 L457.5,849.2 L459.5,849.4 L461.5,849.7 L463.5,849.9 L465.5,850.1 L467.5,850.4 L469.5,850.6 L471.5,850.8 L473.5,851.1 L475.5,851.3 L477.5,851.5 L479.5,851.7 L481.5,851.9 L483.5,852.1 L485.5,852.3 L487.5,852.5 L489.5,852.7 L491.5,852.9 L493.5,853.1 L495.5,853.2 L497.5,853.4 L499.5,853.6 L501.5,853.7 L503.5,853.9 L505.5,854.0 L507.5,854.2 L509.5,854.3 L511.5,854.5 L513.5,854.6 L515.5,854.8 L517.5,854.9 L519.5,855.0 L521.5,855.1 L523.5,855.3 L525.5,855.4 L527.5,855.5 L529.5,855.6 L531.5,855.8 L533.5,855.9 L535.5,856.0 L537.5,856.1 L539.5,856.2 L541.5,856.3 L543.5,856.4 L545.5,856.5 L547.5,856.6 L549.5,856.7 L551.5,856.8 L553.5,856.8 L555.5,856.9 L557.5,857.0 L559.5,857.1 L561.5,857.2 L563.5,857.3 L565.5,857.3 L567.5,857.4 L569.5,857.5 L571.5,857.6 L573.5,857.6 L575.5,857.7 L577.5,857.8 L579.5,857.8 L581.5,857.9 L583.5,858.0 L585.5,858.0 L587.5,858.1 L589.5,858.2 L591.5,858.2 L593.5,858.3 L595.5,858.3 L597.5,858.4 L599.5,858.4 L601.5,858.5 L603.5,858.5 L605.5,858.6" fill="none" stroke="#141414" stroke-width="2.0"/>
<path d="M160.0,861.5 L161.5,858.4 L163.0,855.4 L164.5,852.5 L166.0,849.6 L167.5,846.7 L169.0,843.9 L170.5,841.1 L172.0,838.4 L173.5,835.7 L175.0,833.0 L176.5,830.4 L178.0,827.9 L179.5,825.4 L181.0,822.9 L182.5,820.4 L184.0,818.0 L185.5,815.6 L187.0,813.3 L188.5,811.0 L190.0,808.7 L191.5,806.5 L193.0,804.3 L194.5,802.2 L196.0,800.1 L197.5,798.0 L199.0,795.9 L200.5,793.9 L202.0,791.9 L203.5,789.9 L205.0,788.0 L206.5,786.1 L208.0,784.2 L209.5,782.4 L211.0,780.6 L212.5,778.8 L214.0,777.0 L215.5,775.3 L217.0,773.6 L218.5,771.9 L220.0,770.3 L221.5,768.7 L223.0,767.1 L224.5,765.5 L226.0,763.9 L227.5,762.4 L229.0,760.9 L230.5,759.4 L232.0,758.0 L233.5,756.6 L235.0,755.2 L236.5,753.8 L238.0,752.4 L239.5,751.1 L241.0,749.7 L242.5,748.4 L244.0,747.2 L245.5,745.9 L247.0,744.7 L248.5,743.4 L250.0,742.2 L251.5,741.0 L253.5,739.5 L255.5,741.3 L257.5,743.2 L259.5,745.0 L261.5,746.7 L263.5,748.5 L265.5,750.2 L267.5,751.9 L269.5,753.5 L271.5,755.2 L273.5,756.8 L275.5,758.4 L277.5,759.9 L279.5,761.5 L281.5,763.0 L283.5,764.5 L285.5,765.9 L287.5,767.4 L289.5,768.8 L291.5,770.2 L293.5,771.6 L295.5,773.0 L297.5,774.3 L299.5,775.6 L301.5,776.9 L303.5,778.2 L305.5,779.5 L307.5,780.7 L309.5,781.9 L311.5,783.1 L313.5,784.3 L315.5,785.5 L317.5,786.7 L319.5,787.8 L321.5,788.9 L323.5,790.0 L325.5,791.1 L327.5,792.2 L329.5,793.2 L331.5,794.2 L333.5,795.3 L335.5,796.3 L337.5,797.2 L339.5,798.2 L341.5,799.2 L343.5,800.1 L345.5,801.1 L347.5,802.0 L349.5,802.9 L351.5,803.8 L353.5,804.6 L355.5,805.5 L357.5,806.3 L359.5,807.2 L361.5,808.0 L363.5,808.8 L365.5,809.6 L367.5,810.4 L369.5,811.2 L371.5,811.9 L373.5,812.7 L375.5,813.4 L377.5,814.2 L379.5,814.9 L381.5,815.6 L383.5,816.3 L385.5,817.0 L387.5,817.6 L389.5,818.3 L391.5,819.0 L393.5,819.6 L395.5,820.2 L397.5,820.9 L399.5,821.5 L401.5,822.1 L403.5,822.7 L405.5,823.3 L407.5,823.9 L409.5,824.5 L411.5,825.1 L413.5,825.7 L415.5,826.3 L417.5,826.9 L419.5,827.5 L421.5,828.1 L423.5,828.6 L425.5,829.2 L427.5,829.8 L429.5,830.3 L431.5,830.9 L433.5,831.4 L435.5,831.9 L437.5,832.5 L439.5,833.0 L441.5,833.5 L443.5,834.0 L445.5,834.5 L447.5,835.0 L449.5,835.4 L451.5,835.9 L453.5,836.3 L455.5,836.8 L457.5,837.2 L459.5,837.7 L461.5,838.1 L463.5,838.5 L465.5,838.9 L467.5,839.3 L469.5,839.7 L471.5,840.1 L473.5,840.5 L475.5,840.9 L477.5,841.3 L479.5,841.7 L481.5,842.0 L483.5,842.4 L485.5,842.7 L487.5,843.0 L489.5,843.4 L491.5,843.7 L493.5,844.0 L495.5,844.3 L497.5,844.6 L499.5,844.9 L501.5,845.2 L503.5,845.4 L505.5,845.7 L507.5,846.0 L509.5,846.2 L511.5,846.5 L513.5,846.7 L515.5,847.0 L517.5,847.2 L519.5,847.5 L521.5,847.7 L523.5,847.9 L525.5,848.1 L527.5,848.4 L529.5,848.6 L531.5,848.8 L533.5,849.0 L535.5,849.2 L537.5,849.4 L539.5,849.6 L541.5,849.8 L543.5,850.0 L545.5,850.2 L547.5,850.4 L549.5,850.6 L551.5,850.8 L553.5,851.0 L555.5,851.2 L557.5,851.3 L559.5,851.5 L561.5,851.7 L563.5,851.9 L565.5,852.1 L567.5,852.2 L569.5,852.4 L571.5,852.6 L573.5,852.7 L575.5,852.9 L577.5,853.0 L579.5,853.2 L581.5,853.4 L583.5,853.5 L585.5,853.7 L587.5,853.8 L589.5,854.0 L591.5,854.1 L593.5,854.2 L595.5,854.4 L597.5,854.5 L599.5,854.7 L601.5,854.8 L603.5,854.9 L605.5,855.0" fill="none" stroke="#141414" stroke-width="1.3" stroke-dasharray="4.5 7"/>
<path d="M160.0,861.5 L161.5,856.9 L163.0,852.4 L164.5,848.0 L166.0,843.7 L167.5,839.4 L169.0,835.1 L170.5,831.0 L172.0,826.9 L173.5,822.8 L175.0,818.8 L176.5,814.9 L178.0,811.1 L179.5,807.2 L181.0,803.5 L182.5,799.8 L184.0,796.2 L185.5,792.6 L187.0,789.0 L188.5,785.6 L190.0,782.1 L191.5,778.8 L193.0,775.4 L194.5,772.2 L196.0,768.9 L197.5,765.7 L199.0,762.6 L200.5,759.5 L202.0,756.5 L203.5,753.5 L205.0,750.5 L206.5,747.6 L208.0,744.8 L209.5,741.9 L211.0,739.2 L212.5,736.4 L214.0,733.7 L215.5,731.1 L217.0,728.5 L218.5,725.9 L220.0,723.3 L221.5,720.8 L223.0,718.4 L224.5,715.9 L226.0,713.6 L227.5,711.2 L229.0,708.9 L230.5,706.6 L232.0,704.3 L233.5,702.1 L235.0,699.9 L236.5,697.8 L238.0,695.7 L239.5,693.6 L241.0,691.5 L242.5,689.5 L244.0,687.5 L245.5,685.5 L247.0,683.6 L248.5,681.7 L250.0,679.8 L251.5,677.9 L253.5,675.5 L255.5,678.3 L257.5,681.1 L259.5,683.8 L261.5,686.5 L263.5,689.2 L265.5,691.8 L267.5,694.4 L269.5,696.9 L271.5,699.4 L273.5,701.8 L275.5,704.3 L277.5,706.6 L279.5,709.0 L281.5,711.3 L283.5,713.6 L285.5,715.8 L287.5,718.0 L289.5,720.2 L291.5,722.3 L293.5,724.4 L295.5,726.5 L297.5,728.6 L299.5,730.6 L301.5,732.6 L303.5,734.5 L305.5,736.4 L307.5,738.3 L309.5,740.2 L311.5,742.0 L313.5,743.8 L315.5,745.6 L317.5,747.4 L319.5,749.1 L321.5,750.8 L323.5,752.5 L325.5,754.2 L327.5,755.8 L329.5,757.4 L331.5,759.0 L333.5,760.5 L335.5,762.1 L337.5,763.6 L339.5,765.1 L341.5,766.5 L343.5,768.0 L345.5,769.4 L347.5,770.8 L349.5,772.2 L351.5,773.6 L353.5,774.9 L355.5,776.2 L357.5,777.5 L359.5,778.8 L361.5,780.1 L363.5,781.3 L365.5,782.5 L367.5,783.8 L369.5,784.9 L371.5,786.1 L373.5,787.3 L375.5,788.4 L377.5,789.5 L379.5,790.6 L381.5,791.7 L383.5,792.8 L385.5,793.9 L387.5,794.9 L389.5,795.9 L391.5,796.9 L393.5,797.9 L395.5,798.9 L397.5,799.9 L399.5,800.8 L401.5,801.8 L403.5,802.7 L405.5,803.6 L407.5,804.5 L409.5,805.4 L411.5,806.3 L413.5,807.1 L415.5,808.0 L417.5,808.8 L419.5,809.7 L421.5,810.5 L423.5,811.3 L425.5,812.1 L427.5,812.9 L429.5,813.6 L431.5,814.4 L433.5,815.1 L435.5,815.9 L437.5,816.6 L439.5,817.3 L441.5,818.0 L443.5,818.7 L445.5,819.4 L447.5,820.1 L449.5,820.8 L451.5,821.4 L453.5,822.1 L455.5,822.8 L457.5,823.4 L459.5,824.0 L461.5,824.7 L463.5,825.3 L465.5,825.9 L467.5,826.5 L469.5,827.1 L471.5,827.7 L473.5,828.3 L475.5,828.9 L477.5,829.4 L479.5,830.0 L481.5,830.6 L483.5,831.1 L485.5,831.7 L487.5,832.2 L489.5,832.7 L491.5,833.2 L493.5,833.7 L495.5,834.2 L497.5,834.7 L499.5,835.2 L501.5,835.7 L503.5,836.2 L505.5,836.7 L507.5,837.1 L509.5,837.6 L511.5,838.0 L513.5,838.5 L515.5,838.9 L517.5,839.4 L519.5,839.8 L521.5,840.2 L523.5,840.6 L525.5,841.1 L527.5,841.5 L529.5,841.9 L531.5,842.2 L533.5,842.6 L535.5,843.0 L537.5,843.4 L539.5,843.7 L541.5,844.1 L543.5,844.4 L545.5,844.7 L547.5,845.1 L549.5,845.4 L551.5,845.7 L553.5,846.0 L555.5,846.3 L557.5,846.6 L559.5,846.9 L561.5,847.1 L563.5,847.4 L565.5,847.7 L567.5,848.0 L569.5,848.2 L571.5,848.5 L573.5,848.7 L575.5,849.0 L577.5,849.2 L579.5,849.4 L581.5,849.7 L583.5,849.9 L585.5,850.1 L587.5,850.3 L589.5,850.5 L591.5,850.7 L593.5,850.9 L595.5,851.1 L597.5,851.3 L599.5,851.5 L601.5,851.7 L603.5,851.9 L605.5,852.1" fill="none" stroke="#141414" stroke-width="1.8" stroke-dasharray="2 5.1"/>
<path d="M160.0,861.5 L161.5,855.7 L163.0,850.0 L164.5,844.4 L166.0,838.9 L167.5,833.4 L169.0,828.0 L170.5,822.6 L172.0,817.4 L173.5,812.2 L175.0,807.0 L176.5,801.9 L178.0,796.9 L179.5,791.9 L181.0,787.0 L182.5,782.2 L184.0,777.4 L185.5,772.7 L187.0,768.1 L188.5,763.5 L190.0,758.9 L191.5,754.4 L193.0,750.0 L194.5,745.6 L196.0,741.3 L197.5,737.0 L199.0,732.8 L200.5,728.7 L202.0,724.5 L203.5,720.5 L205.0,716.5 L206.5,712.5 L208.0,708.6 L209.5,704.7 L211.0,700.9 L212.5,697.2 L214.0,693.4 L215.5,689.8 L217.0,686.1 L218.5,682.6 L220.0,679.0 L221.5,675.5 L223.0,672.1 L224.5,668.7 L226.0,665.3 L227.5,662.0 L229.0,658.7 L230.5,655.5 L232.0,652.3 L233.5,649.1 L235.0,646.0 L236.5,642.9 L238.0,639.8 L239.5,636.8 L241.0,633.9 L242.5,630.9 L244.0,628.0 L245.5,625.2 L247.0,622.3 L248.5,619.6 L250.0,616.8 L251.5,614.1 L253.5,610.5 L255.5,614.4 L257.5,618.2 L259.5,622.0 L261.5,625.6 L263.5,629.3 L265.5,632.9 L267.5,636.4 L269.5,639.9 L271.5,643.3 L273.5,646.7 L275.5,650.0 L277.5,653.3 L279.5,656.5 L281.5,659.6 L283.5,662.8 L285.5,665.8 L287.5,668.9 L289.5,671.8 L291.5,674.8 L293.5,677.6 L295.5,680.5 L297.5,683.3 L299.5,686.0 L301.5,688.7 L303.5,691.4 L305.5,694.0 L307.5,696.6 L309.5,699.2 L311.5,701.7 L313.5,704.1 L315.5,706.6 L317.5,709.0 L319.5,711.3 L321.5,713.6 L323.5,715.9 L325.5,718.2 L327.5,720.4 L329.5,722.5 L331.5,724.7 L333.5,726.8 L335.5,728.9 L337.5,730.9 L339.5,732.9 L341.5,734.9 L343.5,736.8 L345.5,738.7 L347.5,740.6 L349.5,742.5 L351.5,744.3 L353.5,746.1 L355.5,747.9 L357.5,749.6 L359.5,751.3 L361.5,753.0 L363.5,754.6 L365.5,756.3 L367.5,757.9 L369.5,759.5 L371.5,761.0 L373.5,762.6 L375.5,764.1 L377.5,765.6 L379.5,767.0 L381.5,768.5 L383.5,769.9 L385.5,771.3 L387.5,772.7 L389.5,774.1 L391.5,775.4 L393.5,776.7 L395.5,778.0 L397.5,779.3 L399.5,780.6 L401.5,781.8 L403.5,783.0 L405.5,784.2 L407.5,785.4 L409.5,786.6 L411.5,787.8 L413.5,788.9 L415.5,790.0 L417.5,791.2 L419.5,792.2 L421.5,793.3 L423.5,794.4 L425.5,795.4 L427.5,796.5 L429.5,797.5 L431.5,798.5 L433.5,799.5 L435.5,800.5 L437.5,801.4 L439.5,802.4 L441.5,803.3 L443.5,804.2 L445.5,805.1 L447.5,806.0 L449.5,806.9 L451.5,807.8 L453.5,808.6 L455.5,809.5 L457.5,810.4 L459.5,811.2 L461.5,812.1 L463.5,813.0 L465.5,813.8 L467.5,814.7 L469.5,815.5 L471.5,816.3 L473.5,817.2 L475.5,818.0 L477.5,818.8 L479.5,819.6 L481.5,820.3 L483.5,821.1 L485.5,821.8 L487.5,822.6 L489.5,823.3 L491.5,824.0 L493.5,824.6 L495.5,825.3 L497.5,825.9 L499.5,826.5 L501.5,827.1 L503.5,827.7 L505.5,828.3 L507.5,828.9 L509.5,829.4 L511.5,830.0 L513.5,830.5 L515.5,831.1 L517.5,831.6 L519.5,832.1 L521.5,832.6 L523.5,833.1 L525.5,833.6 L527.5,834.1 L529.5,834.5 L531.5,835.0 L533.5,835.5 L535.5,835.9 L537.5,836.3 L539.5,836.8 L541.5,837.2 L543.5,837.6 L545.5,838.1 L547.5,838.5 L549.5,838.9 L551.5,839.3 L553.5,839.7 L555.5,840.1 L557.5,840.4 L559.5,840.8 L561.5,841.2 L563.5,841.5 L565.5,841.9 L567.5,842.3 L569.5,842.6 L571.5,842.9 L573.5,843.3 L575.5,843.6 L577.5,843.9 L579.5,844.3 L581.5,844.6 L583.5,844.9 L585.5,845.2 L587.5,845.5 L589.5,845.8 L591.5,846.1 L593.5,846.4 L595.5,846.6 L597.5,846.9 L599.5,847.2 L601.5,847.4 L603.5,847.7 L605.5,848.0" fill="none" stroke="#141414" stroke-width="1.25" stroke-dasharray="6 3.5 2 3.5"/>
<path d="M160.0,861.5 L161.5,854.7 L163.0,847.9 L164.5,841.2 L166.0,834.5 L167.5,828.0 L169.0,821.4 L170.5,815.0 L172.0,808.6 L173.5,802.3 L175.0,796.1 L176.5,789.9 L178.0,783.7 L179.5,777.7 L181.0,771.7 L182.5,765.7 L184.0,759.8 L185.5,754.0 L187.0,748.2 L188.5,742.5 L190.0,736.8 L191.5,731.2 L193.0,725.7 L194.5,720.2 L196.0,714.8 L197.5,709.4 L199.0,704.0 L200.5,698.8 L202.0,693.5 L203.5,688.4 L205.0,683.3 L206.5,678.2 L208.0,673.2 L209.5,668.2 L211.0,663.3 L212.5,658.4 L214.0,653.6 L215.5,648.8 L217.0,644.1 L218.5,639.4 L220.0,634.8 L221.5,630.2 L223.0,625.6 L224.5,621.1 L226.0,616.7 L227.5,612.3 L229.0,607.9 L230.5,603.6 L232.0,599.3 L233.5,595.1 L235.0,590.9 L236.5,586.7 L238.0,582.6 L239.5,578.6 L241.0,574.5 L242.5,570.6 L244.0,566.6 L245.5,562.7 L247.0,558.8 L248.5,555.0 L250.0,551.2 L251.5,547.4 L253.5,542.5 L255.5,547.6 L257.5,552.6 L259.5,557.6 L261.5,562.5 L263.5,567.3 L265.5,572.0 L267.5,576.7 L269.5,581.3 L271.5,585.8 L273.5,590.2 L275.5,594.6 L277.5,598.9 L279.5,603.2 L281.5,607.4 L283.5,611.5 L285.5,615.6 L287.5,619.6 L289.5,623.5 L291.5,627.4 L293.5,631.2 L295.5,635.0 L297.5,638.7 L299.5,642.4 L301.5,645.9 L303.5,649.5 L305.5,653.0 L307.5,656.4 L309.5,659.8 L311.5,663.1 L313.5,666.4 L315.5,669.6 L317.5,672.8 L319.5,675.9 L321.5,679.0 L323.5,682.0 L325.5,685.0 L327.5,688.0 L329.5,690.9 L331.5,693.7 L333.5,696.5 L335.5,699.3 L337.5,702.0 L339.5,704.7 L341.5,707.3 L343.5,709.9 L345.5,712.5 L347.5,715.0 L349.5,717.5 L351.5,719.9 L353.5,722.3 L355.5,724.7 L357.5,727.0 L359.5,729.3 L361.5,731.6 L363.5,733.8 L365.5,736.0 L367.5,738.1 L369.5,740.2 L371.5,742.3 L373.5,744.3 L375.5,746.3 L377.5,748.3 L379.5,750.3 L381.5,752.2 L383.5,754.0 L385.5,755.9 L387.5,757.7 L389.5,759.5 L391.5,761.2 L393.5,763.0 L395.5,764.7 L397.5,766.3 L399.5,768.0 L401.5,769.6 L403.5,771.1 L405.5,772.7 L407.5,774.2 L409.5,775.7 L411.5,777.2 L413.5,778.6 L415.5,780.0 L417.5,781.4 L419.5,782.8 L421.5,784.2 L423.5,785.5 L425.5,786.8 L427.5,788.1 L429.5,789.3 L431.5,790.6 L433.5,791.8 L435.5,793.0 L437.5,794.2 L439.5,795.3 L441.5,796.5 L443.5,797.6 L445.5,798.7 L447.5,799.8 L449.5,800.9 L451.5,802.0 L453.5,803.0 L455.5,804.0 L457.5,805.0 L459.5,806.0 L461.5,807.0 L463.5,808.0 L465.5,808.9 L467.5,809.9 L469.5,810.8 L471.5,811.7 L473.5,812.6 L475.5,813.5 L477.5,814.4 L479.5,815.2 L481.5,816.0 L483.5,816.9 L485.5,817.7 L487.5,818.5 L489.5,819.3 L491.5,820.0 L493.5,820.8 L495.5,821.5 L497.5,822.3 L499.5,823.0 L501.5,823.7 L503.5,824.4 L505.5,825.1 L507.5,825.7 L509.5,826.4 L511.5,827.1 L513.5,827.7 L515.5,828.3 L517.5,829.0 L519.5,829.6 L521.5,830.2 L523.5,830.8 L525.5,831.4 L527.5,831.9 L529.5,832.5 L531.5,833.0 L533.5,833.6 L535.5,834.1 L537.5,834.6 L539.5,835.1 L541.5,835.6 L543.5,836.1 L545.5,836.5 L547.5,837.0 L549.5,837.4 L551.5,837.9 L553.5,838.3 L555.5,838.7 L557.5,839.2 L559.5,839.6 L561.5,840.0 L563.5,840.4 L565.5,840.7 L567.5,841.1 L569.5,841.5 L571.5,841.9 L573.5,842.2 L575.5,842.6 L577.5,842.9 L579.5,843.2 L581.5,843.6 L583.5,843.9 L585.5,844.2 L587.5,844.5 L589.5,844.8 L591.5,845.1 L593.5,845.4 L595.5,845.7 L597.5,846.0 L599.5,846.3 L601.5,846.5 L603.5,846.8 L605.5,847.1" fill="none" stroke="#141414" stroke-width="1.7" stroke-dasharray="5 2.8 2 2.8 2 2.8"/>
<line x1="113" y1="506" x2="113" y2="899" stroke="#141414" stroke-width="1.8"/>
<line x1="108.5" y1="898" x2="675.5" y2="898" stroke="#141414" stroke-width="2.5"/>
<line x1="104.5" y1="861.5" x2="113" y2="861.5" stroke="#141414" stroke-width="1.6"/>
<line x1="108.5" y1="826.0" x2="113" y2="826.0" stroke="#141414" stroke-width="1.6"/>
<line x1="104.5" y1="790.4" x2="113" y2="790.4" stroke="#141414" stroke-width="1.6"/>
<line x1="108.5" y1="754.9" x2="113" y2="754.9" stroke="#141414" stroke-width="1.6"/>
<line x1="104.5" y1="719.3" x2="113" y2="719.3" stroke="#141414" stroke-width="1.6"/>
<line x1="108.5" y1="683.8" x2="113" y2="683.8" stroke="#141414" stroke-width="1.6"/>
<line x1="104.5" y1="648.2" x2="113" y2="648.2" stroke="#141414" stroke-width="1.6"/>
<line x1="108.5" y1="612.6" x2="113" y2="612.6" stroke="#141414" stroke-width="1.6"/>
<line x1="104.5" y1="577.1" x2="113" y2="577.1" stroke="#141414" stroke-width="1.6"/>
<line x1="108.5" y1="541.5" x2="113" y2="541.5" stroke="#141414" stroke-width="1.6"/>
<line x1="104.5" y1="506.0" x2="113" y2="506.0" stroke="#141414" stroke-width="1.6"/>
<line x1="113.2" y1="898" x2="113.2" y2="902" stroke="#141414" stroke-width="1.6"/>
<line x1="160.0" y1="898" x2="160.0" y2="905.5" stroke="#141414" stroke-width="1.6"/>
<line x1="206.8" y1="898" x2="206.8" y2="902" stroke="#141414" stroke-width="1.6"/>
<line x1="253.6" y1="898" x2="253.6" y2="905.5" stroke="#141414" stroke-width="1.6"/>
<line x1="300.4" y1="898" x2="300.4" y2="902" stroke="#141414" stroke-width="1.6"/>
<line x1="347.2" y1="898" x2="347.2" y2="905.5" stroke="#141414" stroke-width="1.6"/>
<line x1="394.0" y1="898" x2="394.0" y2="902" stroke="#141414" stroke-width="1.6"/>
<line x1="440.8" y1="898" x2="440.8" y2="905.5" stroke="#141414" stroke-width="1.6"/>
<line x1="487.6" y1="898" x2="487.6" y2="902" stroke="#141414" stroke-width="1.6"/>
<line x1="534.4" y1="898" x2="534.4" y2="905.5" stroke="#141414" stroke-width="1.6"/>
<line x1="581.2" y1="898" x2="581.2" y2="902" stroke="#141414" stroke-width="1.6"/>
<line x1="628.0" y1="898" x2="628.0" y2="905.5" stroke="#141414" stroke-width="1.6"/>
<line x1="674.8" y1="898" x2="674.8" y2="902" stroke="#141414" stroke-width="1.6"/>
<text transform="translate(102.9,873.8) scale(0.94,1)" font-size="38.5" text-anchor="end">300</text>
<text transform="translate(102.9,802.7) scale(0.94,1)" font-size="38.5" text-anchor="end">310</text>
<text transform="translate(102.9,731.6) scale(0.94,1)" font-size="38.5" text-anchor="end">320</text>
<text transform="translate(102.9,660.5) scale(0.94,1)" font-size="38.5" text-anchor="end">330</text>
<text transform="translate(102.9,589.4) scale(0.94,1)" font-size="38.5" text-anchor="end">340</text>
<text transform="translate(102.9,518.3) scale(0.94,1)" font-size="38.5" text-anchor="end">350</text>
<text transform="translate(160,932.5) scale(0.94,1)" font-size="38.5" text-anchor="middle">0</text>
<text transform="translate(250,932.5) scale(0.94,1)" font-size="38.5" text-anchor="middle">20</text>
<text transform="translate(341,932.5) scale(0.94,1)" font-size="38.5" text-anchor="middle">40</text>
<text transform="translate(440.5,932.5) scale(0.94,1)" font-size="38.5" text-anchor="middle">60</text>
<text transform="translate(532,932.5) scale(0.94,1)" font-size="38.5" text-anchor="middle">80</text>
<text transform="translate(634,932.5) scale(0.94,1)" font-size="38.5" text-anchor="middle">100</text>
<text x="404" y="966.6" font-size="36" text-anchor="middle">time/s</text>
<text x="129.5" y="531.2" font-size="36" text-anchor="start">b</text>
<text transform="translate(25.8,682) rotate(-90)" font-size="35.6" text-anchor="middle">temperature/K</text>
<text x="322.3" y="632.6" font-size="35">3<tspan dx="2.5">W/cm</tspan><tspan font-size="20.5" dy="-13" dx="0.5">2</tspan></text>
<text x="378" y="695" font-size="35">4<tspan dx="2.5">W/cm</tspan><tspan font-size="20.5" dy="-13" dx="0.5">2</tspan></text>
<text x="432.3" y="759.4" font-size="35">5<tspan dx="2.5">W/cm</tspan><tspan font-size="20.5" dy="-13" dx="0.5">2</tspan></text>
<text x="150.5" y="883.8" font-size="35">1<tspan dx="2.0">W/cm</tspan><tspan font-size="20.5" dy="-13" dx="0.5">2</tspan></text>
<text x="302" y="877.8" font-size="35">2<tspan dx="2.5">W/cm</tspan><tspan font-size="20.5" dy="-13" dx="0.5">2</tspan></text>
<line x1="372.0" y1="641.0" x2="310.7" y2="725.5" stroke="#141414" stroke-width="1.3"/>
<polygon points="304.5,734.0 308.4,723.9 312.9,727.1" fill="#141414"/>
<line x1="433.0" y1="696.5" x2="393.1" y2="761.1" stroke="#141414" stroke-width="1.3"/>
<polygon points="387.6,770.0 390.7,759.6 395.5,762.5" fill="#141414"/>
<line x1="480.5" y1="759.5" x2="466.1" y2="793.3" stroke="#141414" stroke-width="1.3"/>
<polygon points="462.0,803.0 463.5,792.2 468.7,794.4" fill="#141414"/>
<line x1="220.0" y1="854.0" x2="203.9" y2="842.7" stroke="#141414" stroke-width="1.3"/>
<polygon points="196.5,837.5 205.5,840.4 202.3,845.0" fill="#141414"/>
<line x1="359.0" y1="862.5" x2="376.2" y2="829.3" stroke="#141414" stroke-width="1.3"/>
<polygon points="381.0,820.0 378.7,830.6 373.7,828.0" fill="#141414"/>
</g>
</g>
</svg>
</body>
</html>
